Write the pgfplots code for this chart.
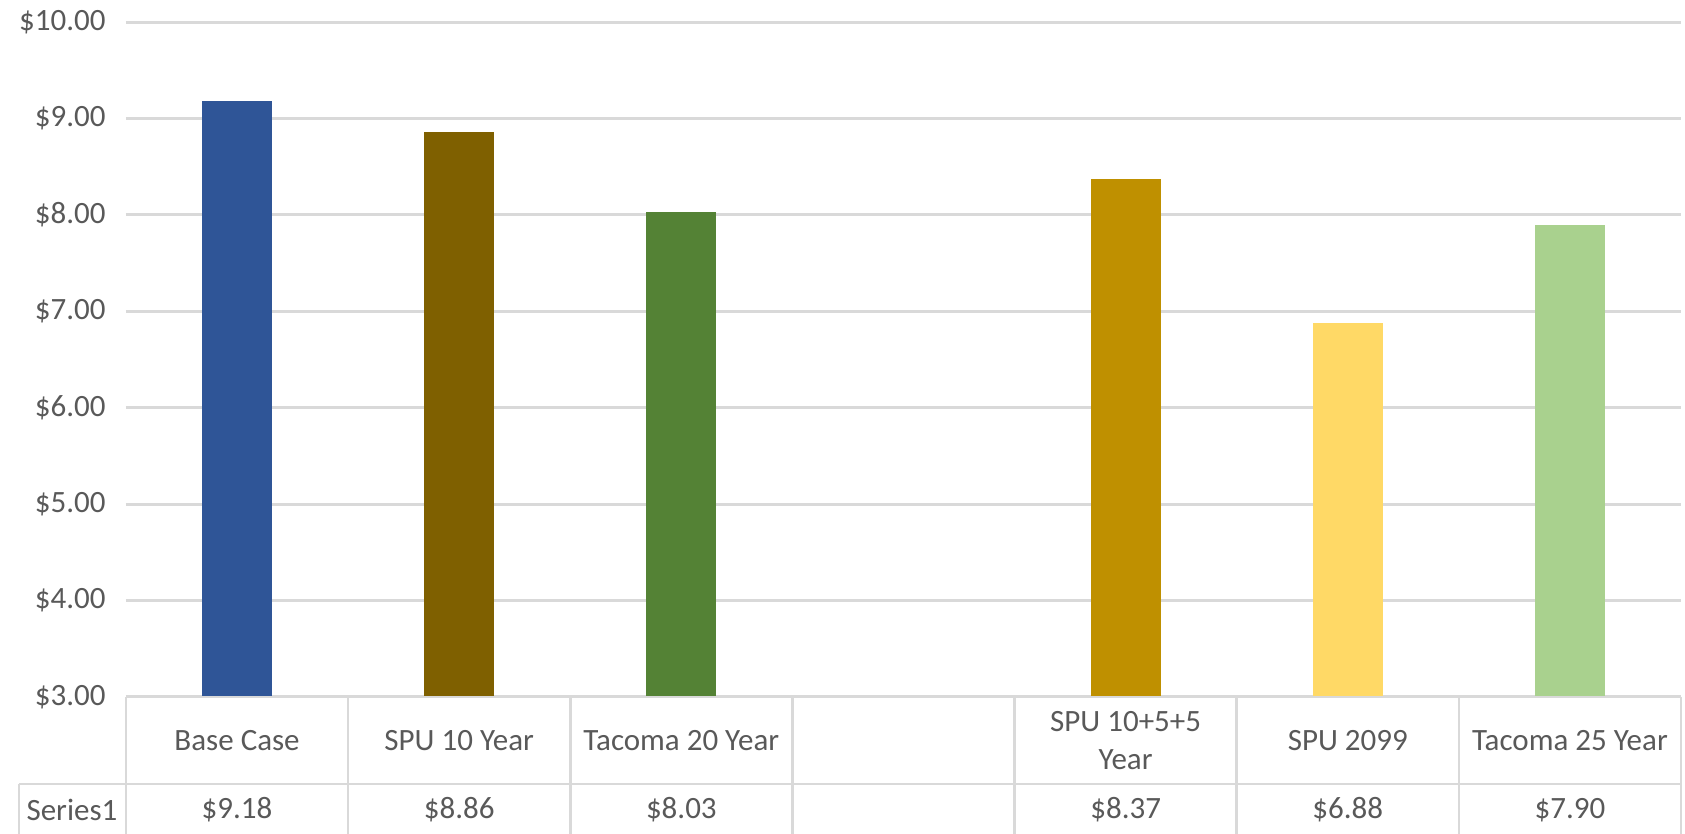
\documentclass[border=0pt]{standalone}
\usepackage{pgfplots}
\pgfplotsset{compat=1.18}
\usepackage{fontspec}
\setmainfont{Carlito}

\definecolor{txt}{HTML}{595959}
\definecolor{gridc}{HTML}{D9D9D9}
\definecolor{c1}{HTML}{2F5597}
\definecolor{c2}{HTML}{7F6000}
\definecolor{c3}{HTML}{548235}
\definecolor{c5}{HTML}{BF9000}
\definecolor{c6}{HTML}{FFD966}
\definecolor{c7}{HTML}{A9D18E}

\newcommand{\lbl}{\fontsize{15.5}{19}\selectfont}

\begin{document}
\begin{tikzpicture}[font=\lbl, text=txt]
\path[use as bounding box] (-63pt,-68.5pt) rectangle (779.5pt,348.5pt);
\begin{axis}[
    at={(0,0)}, anchor=south west,
    scale only axis,
    width=777.5pt, height=337.5pt,
    xmin=-0.5, xmax=6.5,
    ymin=3, ymax=10,
    ytick={3,...,10},
    xtick={0,...,6},
    xticklabels={Base Case, SPU 10 Year, Tacoma 20 Year, , {SPU 10+5+5\\Year}, SPU 2099, Tacoma 25 Year},
    axis line style={draw=none},
    major tick length=0pt,
    ymajorgrids,
    grid style={gridc, line width=1.5pt},
    yticklabel={\$\pgfmathprintnumber{\tick}},
    /pgf/number format/.cd, fixed, fixed zerofill, precision=2, assume math mode=true,
    /pgfplots/.cd,
    tick label style={font=\lbl, text=txt},
    yticklabel style={inner sep=0pt, xshift=-10pt},
    xticklabel style={anchor=center, align=center, yshift=-21.75pt},
]
% one bar per scenario
\addplot[ybar, bar width=35pt, fill=c1, draw=none] coordinates {(0,9.18)};
\addplot[ybar, bar width=35pt, fill=c2, draw=none] coordinates {(1,8.86)};
\addplot[ybar, bar width=35pt, fill=c3, draw=none] coordinates {(2,8.03)};
\addplot[ybar, bar width=35pt, fill=c5, draw=none] coordinates {(4,8.37)};
\addplot[ybar, bar width=35pt, fill=c6, draw=none] coordinates {(5,6.88)};
\addplot[ybar, bar width=35pt, fill=c7, draw=none] coordinates {(6,7.90)};
\end{axis}

% data table below the plot
\begin{scope}[gridc, line width=1.3pt]
  \draw (0,0) -- (777.5pt,0);
  \foreach \i in {0,...,7}
    \draw (\i*111.0714pt,0) -- (\i*111.0714pt,-68.5pt);
  \draw (-53.5pt,-43.5pt) -- (777.5pt,-43.5pt);
  \draw (-53.5pt,-43.5pt) -- (-53.5pt,-68.5pt);
\end{scope}
\node at (-27pt,-56.5pt) {Series1};
\foreach \i/\v in {0/9.18, 1/8.86, 2/8.03, 4/8.37, 5/6.88, 6/7.90}
  \node at (\i*111.0714pt+55.536pt,-56.5pt) {\$\v};
\end{tikzpicture}
\end{document}
